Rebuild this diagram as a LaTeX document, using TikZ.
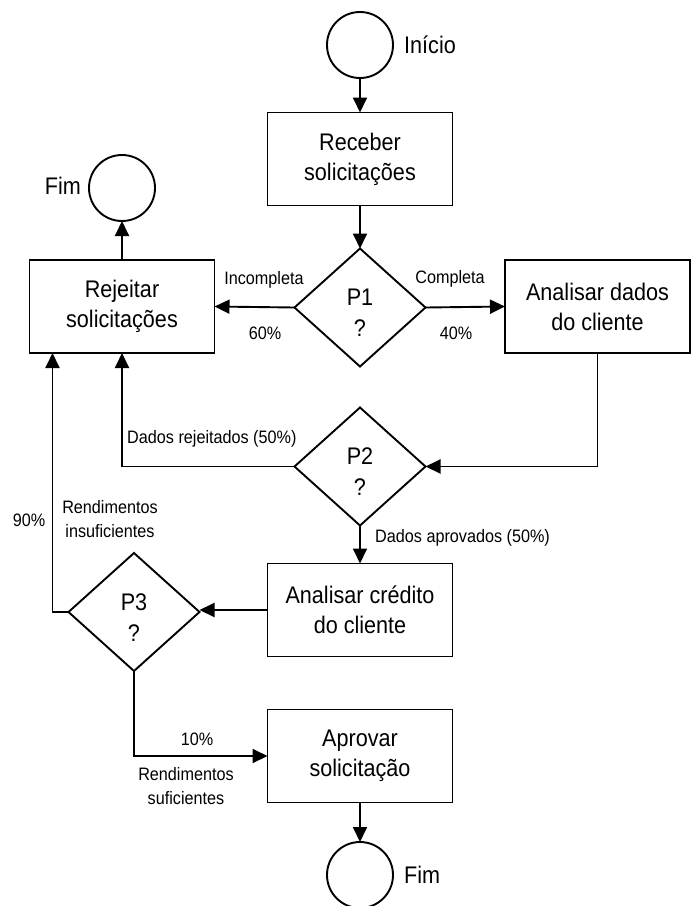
\documentclass[tikz,border=0pt]{standalone}
\usepackage{fontspec}
\setmainfont[FakeStretch=0.9]{Liberation Sans}
\usetikzlibrary{shapes.geometric,arrows.meta}
\tikzset{
  base/.style={draw=black, line width=1.9pt, inner sep=0pt, outer sep=0pt},
  procbox/.style={base, rectangle, minimum width=185pt, minimum height=93pt, align=center, font=\fontsize{24}{30}\selectfont},
  term/.style={base, circle, minimum size=66pt},
  decis/.style={base, diamond, minimum width=131pt, minimum height=118pt},
  dtext/.style={inner sep=0pt, align=center, font=\fontsize{24}{31}\selectfont},
  lbl/.style={inner sep=0pt, align=center, font=\fontsize{18}{24}\selectfont},
  tlbl/.style={inner sep=0pt, font=\fontsize{24}{28}\selectfont},
  arr/.style={line width=1.9pt, -{Triangle[length=15pt,width=14pt]}},
  ln/.style={line width=1.9pt}
}
\begin{document}
\begin{tikzpicture}[x=1pt,y=-1pt]
\useasboundingbox[fill=white] (0,0) rectangle (698,906);
% nodes
\node[term] (ini) at (360,45) {};
\node[tlbl, anchor=west] (inilbl) at (404,45) {Início};
\node[procbox] (rec) at (360,159) {Receber\\solicitações};
\node[decis] (p1) at (360,307.5) {};
\node[dtext] (p1t) at (360,313) {P1\\?};
\node[procbox] (rej) at (122,306.5) {Rejeitar\\solicitações};
\node[term] (fim1) at (122,188) {};
\node[tlbl, anchor=east] (fim1lbl) at (81,186) {Fim};
\node[procbox] (ana) at (597.5,306.5) {Analisar dados\\do cliente};
\node[decis] (p2) at (360,466.5) {};
\node[dtext] (p2t) at (360,472) {P2\\?};
\node[procbox] (cred) at (360,610) {Analisar crédito\\do cliente};
\node[decis] (p3) at (134,612) {};
\node[dtext] (p3t) at (134,617.5) {P3\\?};
\node[procbox] (apr) at (360,756) {Aprovar\\solicitação};
\node[term] (fim2) at (360,875) {};
\node[tlbl, anchor=west] (fim2lbl) at (404,875) {Fim};
% labels
\node[lbl] (lInc) at (264,280) {Incompleta};
\node[lbl] (l60) at (265,333) {60\%};
\node[lbl] (lComp) at (450,279) {Completa};
\node[lbl] (l40) at (456,333) {40\%};
\node[lbl, anchor=west] (lRej) at (127,439) {Dados rejeitados (50\%)};
\node[lbl, anchor=west] (lApr) at (375,538) {Dados aprovados (50\%)};
\node[lbl] (l90) at (29,520) {90\%};
\node[lbl] (lIns) at (110,519) {Rendimentos\\insuficientes};
\node[lbl] (l10) at (197,739) {10\%};
\node[lbl] (lSuf) at (186,786) {Rendimentos\\suficientes};
% connectors
\draw[arr] (ini) -- (rec);
\draw[arr] (rec) -- (p1);
\draw[arr] (p1.west) -- (rej.east);
\draw[arr] (p1.east) -- (ana.west);
\draw[arr] (rej.north) -- (fim1.south);
\draw[arr] (ana.south) |- (p2.east);
\draw[arr] (p2.west) -| (rej.south);
\draw[arr] (p2.south) -- (cred.north);
\draw[arr] (cred.west) -- (cred.west -| p3.east);
\draw[arr] (p3.west) -| ([xshift=23pt]rej.south west);
\draw[arr] (p3.south) |- (apr.west);
\draw[arr] (apr.south) -- (fim2.north);
\end{tikzpicture}
\end{document}
